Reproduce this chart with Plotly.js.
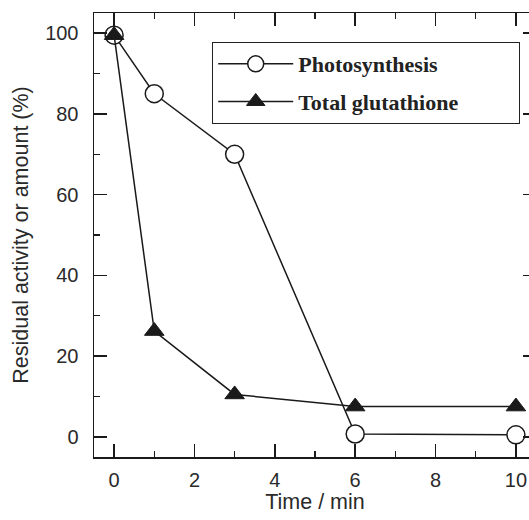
<!DOCTYPE html>
<html>
<head>
<meta charset="utf-8">
<script src="https://cdn.plot.ly/plotly-3.0.1.min.js"></script>
<style>
html,body{margin:0;padding:0;overflow:hidden;background:#fff;}
#chart{width:545px;height:520px;}
</style>
</head>
<body>
<div id="chart"></div>
<script>
const timeMin = [0, 1, 3, 6, 10];
const photosynthesis = [99.5, 85, 70, 0.7, 0.5];
const totalGlutathione = [99.5, 26.2, 10.5, 7.5, 7.5];
const seriesNames = ['Photosynthesis', 'Total glutathione'];
const xTicks = [0, 2, 4, 6, 8, 10];
const yTicks = [0, 20, 40, 60, 80, 100];

const lineCol = '#1a1a1a';
const pad = '\u00a0'.repeat(10);
const traces = [
  {
    x: timeMin, y: photosynthesis, name: seriesNames[0] + pad, legendgroup: 'g1',
    mode: 'lines+markers', type: 'scatter',
    line: {color: lineCol, width: 1.5},
    marker: {symbol: 'circle', size: 18, color: '#ffffff', line: {color: lineCol, width: 1.5}}
  },
  {
    x: timeMin, y: totalGlutathione, name: seriesNames[1] + pad, legendgroup: 'g2',
    mode: 'lines+markers', type: 'scatter',
    line: {color: lineCol, width: 1.5},
    marker: {symbol: 'triangle-up', size: 17, color: lineCol, line: {color: lineCol, width: 1}}
  }
];

const tickFont = {family: 'Liberation Sans, Arial, sans-serif', size: 20, color: '#2a2a2a'};
const titleFont = {family: 'Liberation Sans, Arial, sans-serif', size: 21.5, color: '#2a2a2a'};
const layout = {
  width: 545, height: 520,
  margin: {l: 94, r: 9, t: 13, b: 63},
  paper_bgcolor: '#fff', plot_bgcolor: '#fff',
  showlegend: true,
  legend: {
    x: 0.267, y: 0.935, xanchor: 'left', yanchor: 'top',
    bordercolor: '#222', borderwidth: 1.2, bgcolor: '#fff',
    font: {family: 'Liberation Serif, Times New Roman, serif', size: 22, color: '#222', weight: 'bold'},
    itemwidth: 75, tracegroupgap: 6, traceorder: 'grouped'
  },
  xaxis: {
    range: [-0.5, 10.5], tickvals: xTicks, ticktext: xTicks.map(String),
    ticks: 'inside', ticklen: 13, tickwidth: 1.5, tickcolor: lineCol,
    showline: true, linecolor: lineCol, linewidth: 1.5, mirror: 'ticks',
    showgrid: false, zeroline: false,
    minor: {dtick: 1, tick0: 0, ticks: 'inside', ticklen: 6, tickwidth: 1.5, tickcolor: lineCol},
    tickfont: tickFont, ticklabelstandoff: 4,
    title: {text: 'Time / min', font: titleFont, standoff: 0}
  },
  yaxis: {
    range: [-5, 105], tickvals: yTicks, ticktext: yTicks.map(String),
    ticks: 'inside', ticklen: 13, tickwidth: 1.5, tickcolor: lineCol,
    showline: true, linecolor: lineCol, linewidth: 1.5, mirror: 'ticks',
    showgrid: false, zeroline: false,
    minor: {dtick: 10, tick0: 0, ticks: 'inside', ticklen: 6, tickwidth: 1.5, tickcolor: lineCol},
    tickfont: tickFont, ticklabelstandoff: 10,
    title: {text: 'Residual activity or amount (%)', font: titleFont, standoff: 10}
  }
};
Plotly.newPlot('chart', traces, layout, {displayModeBar: false, staticPlot: true});
</script>
</body>
</html>
